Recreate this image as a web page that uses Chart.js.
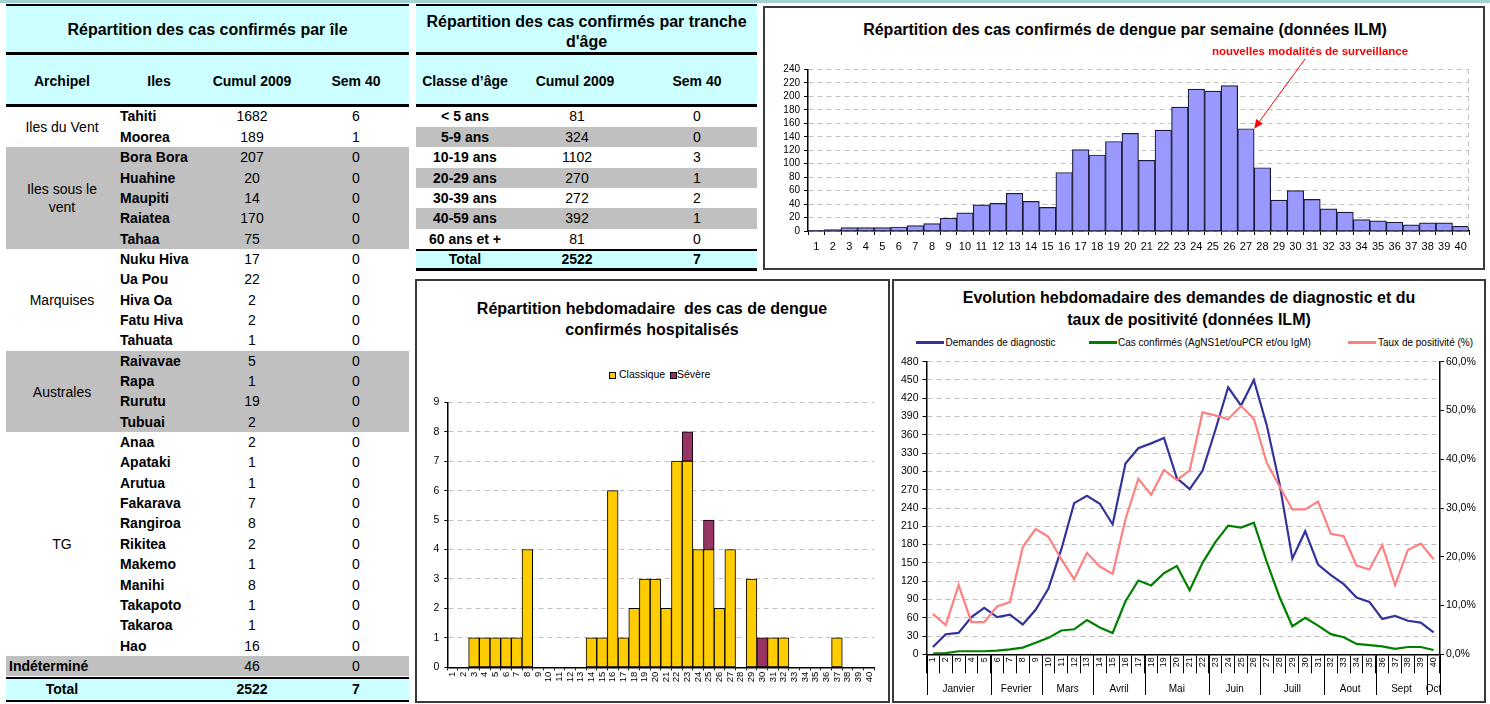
<!DOCTYPE html>
<html><head><meta charset="utf-8">
<script src="https://cdn.jsdelivr.net/npm/chart.js@4.4.0/dist/chart.umd.min.js"></script>
<style>
html,body{margin:0;padding:0;background:#fff}
body{width:1490px;height:704px;position:relative;overflow:hidden;font-family:"Liberation Sans",Arial,sans-serif;color:#000}
canvas{position:absolute}
.t{position:absolute;white-space:pre;}
</style></head><body>
<script>
// ---------------- DATA ----------------
const archipelNames = ['Iles du Vent', 'Iles sous le\nvent', 'Marquises', 'Australes', 'TG'];
const archipelSizes = [2, 5, 5, 4, 11];
const islandNames = ['Tahiti','Moorea','Bora Bora','Huahine','Maupiti','Raiatea','Tahaa','Nuku Hiva','Ua Pou','Hiva Oa','Fatu Hiva','Tahuata','Raivavae','Rapa','Rurutu','Tubuai','Anaa','Apataki','Arutua','Fakarava','Rangiroa','Rikitea','Makemo','Manihi','Takapoto','Takaroa','Hao'];
const islandCumul = [1682,189,207,20,14,170,75,17,22,2,2,1,5,1,19,2,2,1,1,7,8,2,1,8,1,1,16];
const islandSem40 = [6,1,0,0,0,0,0,0,0,0,0,0,0,0,0,0,0,0,0,0,0,0,0,0,0,0,0];
const indetCumul = 46, indetSem40 = 0;
const islandTotalCumul = 2522, islandTotalSem40 = 7;

const ageClasses = ['< 5 ans','5-9 ans','10-19 ans','20-29 ans','30-39 ans','40-59 ans','60 ans et +'];
const ageCumul = [81,324,1102,270,272,392,81];
const ageSem40 = [0,0,3,1,2,1,0];
const ageTotalCumul = 2522, ageTotalSem40 = 7;

const weekLabels = ['1','2','3','4','5','6','7','8','9','10','11','12','13','14','15','16','17','18','19','20','21','22','23','24','25','26','27','28','29','30','31','32','33','34','35','36','37','38','39','40'];
const weeklyConfirmed = [1,2,5,5,5,6,8,11,19,27,39,41,56,44,35,87,121,113,133,145,105,150,184,211,208,216,152,94,46,60,47,33,28,17,15,13,9,12,12,7];
const annotatedWeekIndex = 26;

const hospClassique = [0,0,1,1,1,1,1,4,0,0,0,0,0,1,1,6,1,2,3,3,2,7,7,4,4,2,4,0,3,0,1,1,0,0,0,0,1,0,0,0];
const hospSevere    = [0,0,0,0,0,0,0,0,0,0,0,0,0,0,0,0,0,0,0,0,0,0,1,0,1,0,0,0,0,1,0,0,0,0,0,0,0,0,0,0];

const demandesDiag = [12,33,35,61,76,61,65,49,73,108,172,248,260,247,213,313,338,346,355,289,271,301,368,438,408,450,376,280,157,202,147,130,115,93,86,58,63,55,52,36];
const casConfirmes = [1,2,5,5,5,6,8,11,19,27,39,41,56,44,35,87,121,113,133,145,105,150,184,211,208,216,152,94,46,60,47,33,28,17,15,13,9,12,12,7];
const tauxPositivite = [8.3,6.0,14.2,6.6,6.6,9.8,10.7,22.0,25.7,24.1,19.5,15.4,20.8,18.0,16.5,27.7,36.0,32.7,37.8,35.7,37.7,49.6,49.0,48.2,50.9,48.3,39.3,34.4,29.7,29.7,31.3,24.7,24.2,18.2,17.4,22.4,14.2,21.4,22.7,19.5];
const monthNames = ['Janvier','Fevrier','Mars','Avril','Mai','Juin','Juill','Aout','Sept','Oct'];
const monthWeekCounts = [5,4,4,4,5,4,5,4,4,1];

// ---------------- HELPERS ----------------
function rect(x,y,w,h,bg,extra){const d=document.createElement('div');d.style.cssText=`position:absolute;left:${x}px;top:${y}px;width:${w}px;height:${h}px;background:${bg};${extra||''}`;document.body.appendChild(d);return d;}
function text(s,x,y,o){o=o||{};const d=document.createElement('div');d.className='t';const size=o.size||14;const lh=o.lh||size*1.2;
  let css=`font-size:${size}px;line-height:${lh}px;font-weight:${o.bold?'bold':'normal'};color:${o.color||'#000'};`;
  const lines=String(s).split('\n').length;const top=y-lines*lh/2;
  if(o.align==='left'){css+=`left:${x}px;top:${top}px;`;}
  else {css+=`left:${x-300}px;width:600px;text-align:center;top:${top}px;`;}
  d.style.cssText+=css;d.textContent=s;document.body.appendChild(d);return d;}

const CYAN='#ccffff', GRAY='#c0c0c0';
rect(0,0,1490,3,'#a3d1d1');

// ---------------- LEFT TABLE ----------------
(function(){
  const X=6,W=403,R0=106.7,RH=20.35;
  rect(X,4,W,2,'#000');rect(X,6,W,46,CYAN);rect(X,52,W,3,'#000');rect(X,55,W,49,CYAN);rect(X,104,W,2.7,'#000');
  text('Répartition des cas confirmés par île',207.5,30,{bold:true,size:16});
  text('Archipel',62,81,{bold:true});text('Iles',159,81,{bold:true});text('Cumul 2009',252,81,{bold:true});text('Sem 40',356,81,{bold:true});
  let r=0;
  archipelNames.forEach((name,g)=>{const n=archipelSizes[g];
    if(g%2===1) rect(X,R0+r*RH,W,n*RH,GRAY);
    text(name,62,R0+(r+n/2)*RH,{lh:18});
    r+=n;});
  islandNames.forEach((nm,i)=>{const cy=R0+(i+0.5)*RH;
    text(nm,120,cy,{bold:true,align:'left'});
    text(String(islandCumul[i]),252,cy);
    text(String(islandSem40[i]),356,cy);});
  const ri=islandNames.length;
  rect(X,R0+ri*RH,W,RH,GRAY);
  text('Indéterminé',9,R0+(ri+0.5)*RH,{bold:true,align:'left'});
  text(String(indetCumul),252,R0+(ri+0.5)*RH);text(String(indetSem40),356,R0+(ri+0.5)*RH);
  const yb=R0+(ri+1)*RH;
  rect(X,yb,W,2.7,'#000');rect(X,yb+2.7,W,20.5,CYAN);rect(X,yb+23.2,W,2.7,'#000');
  const ty=yb+13;
  text('Total',62,ty,{bold:true});text(String(islandTotalCumul),252,ty,{bold:true});text(String(islandTotalSem40),356,ty,{bold:true});
})();

// ---------------- MIDDLE TABLE ----------------
(function(){
  const X=416,W=341,R0=106.7,RH=20.35;
  rect(X,4,W,2,'#000');rect(X,6,W,46,CYAN);rect(X,52,W,3,'#000');rect(X,55,W,49,CYAN);rect(X,104,W,2.7,'#000');
  text("Répartition des cas confirmés par tranche\nd'âge",586.5,31.5,{bold:true,size:16,lh:20});
  text('Classe d’âge',465,81,{bold:true});text('Cumul 2009',575,81,{bold:true});text('Sem 40',697,81,{bold:true});
  ageClasses.forEach((a,i)=>{const cy=R0+(i+0.5)*RH;
    if(i%2===1) rect(X,R0+i*RH,W,RH,GRAY);
    text(a,465,cy,{bold:true});text(String(ageCumul[i]),577,cy);text(String(ageSem40[i]),697,cy);});
  const yb=R0+ageClasses.length*RH;
  rect(X,yb-0.5,W,2.2,'#000');rect(X,yb+1.7,W,17.5,CYAN);rect(X,yb+19.2,W,2.3,'#000');
  const ty=yb+10.5;
  text('Total',465,ty,{bold:true});text(String(ageTotalCumul),577,ty,{bold:true});text(String(ageTotalSem40),697,ty,{bold:true});
})();

// ---------------- CHART BOXES ----------------
rect(763,6,722,264,'#fff','box-sizing:border-box;border:2px solid #3a3a3a');
rect(415,279,475,424,'#fff','box-sizing:border-box;border:2px solid #3a3a3a');
rect(892,279,594,424,'#fff','box-sizing:border-box;border:2px solid #3a3a3a');

text('Répartition des cas confirmés de dengue par semaine (données ILM)',1125,30,{bold:true,size:16});
text('Répartition hebdomadaire  des cas de dengue\nconfirmés hospitalisés',652,318.5,{bold:true,size:16,lh:21});
text('Evolution hebdomadaire des demandes de diagnostic et du\ntaux de positivité (données ILM)',1189,309,{bold:true,size:16,lh:22});

// middle legend
rect(609,371.5,5,5,'#ffcc00','border:1px solid #000');
text('Classique',619,374.3,{size:10.5,align:'left'});
rect(670,371.5,5,5,'#993366','border:1px solid #000');
text('Sévère',677,374.3,{size:10.5,align:'left'});
// right legend
rect(916,341,28,3,'#333399');text('Demandes de diagnostic',945.5,342.5,{size:10,align:'left'});
rect(1089,341,28,3,'#008000');text('Cas confirmés (AgNS1et/ouPCR et/ou IgM)',1118,342.5,{size:10,align:'left'});
rect(1348,341,28,3,'#ff8080');text('Taux de positivité (%)',1378,342.5,{size:10,align:'left'});

function mkCanvas(x,y,w,h){const c=document.createElement('canvas');c.width=w;c.height=h;c.style.left=x+'px';c.style.top=y+'px';c.style.width=w+'px';c.style.height=h+'px';document.body.appendChild(c);return c;}

Chart.defaults.font.family='"Liberation Sans", Arial, sans-serif';
Chart.defaults.color='#000';

// ---------------- TOP RIGHT CHART ----------------
const annotPlugin={id:'annot',afterDraw(chart){
  const {ctx,scales:{x,y},chartArea}=chart;
  ctx.save();
  ctx.strokeStyle='#c0c0c0';ctx.lineWidth=1;ctx.setLineDash([5,4]);
  ctx.beginPath();ctx.moveTo(chartArea.right-0.5,chartArea.top);ctx.lineTo(chartArea.right-0.5,chartArea.bottom);ctx.stroke();
  ctx.setLineDash([]);
  const half=(x.getPixelForValue(1)-x.getPixelForValue(0))/2;
  const tx=x.getPixelForValue(annotatedWeekIndex)+half, ty=y.getPixelForValue(weeklyConfirmed[annotatedWeekIndex]);
  const sx=541, sy=59;
  ctx.strokeStyle='#ff0000';ctx.fillStyle='#ff0000';ctx.lineWidth=1;
  const ang=Math.atan2(ty-sy,tx-sx), L=9, Wd=4;
  const bx=tx-L*Math.cos(ang), by=ty-L*Math.sin(ang);
  ctx.beginPath();ctx.moveTo(sx,sy);ctx.lineTo(bx,by);ctx.stroke();
  ctx.beginPath();ctx.moveTo(tx,ty);ctx.lineTo(bx+Wd*Math.sin(ang),by-Wd*Math.cos(ang));ctx.lineTo(bx-Wd*Math.sin(ang),by+Wd*Math.cos(ang));ctx.closePath();ctx.fill();
  ctx.font='bold 11.5px "Liberation Sans", Arial, sans-serif';ctx.textAlign='center';ctx.textBaseline='middle';
  ctx.fillText('nouvelles modalités de surveillance',546,52);
  ctx.restore();
}};
new Chart(mkCanvas(764,0,720,268),{
  type:'bar',
  data:{labels:weekLabels,datasets:[{data:weeklyConfirmed,backgroundColor:'#9999ff',borderColor:'#1c1c3a',borderWidth:1.2,barPercentage:1,categoryPercentage:1}]},
  options:{responsive:false,animation:false,devicePixelRatio:1,
    layout:{padding:{top:69.5,right:15,left:0,bottom:0}},
    plugins:{legend:{display:false},tooltip:{enabled:false},title:{display:false}},
    scales:{
      x:{grid:{display:true,drawOnChartArea:false,offset:true,tickLength:4,color:'#000'},border:{color:'#000',width:1.5},
         ticks:{autoSkip:false,maxRotation:0,minRotation:0,font:{size:11},padding:5},afterFit:s=>{s.height=37;}},
      y:{min:0,max:240,ticks:{stepSize:20,autoSkip:false,font:{size:10},padding:4},
         grid:{color:'#c0c0c0',tickColor:'#000',tickLength:4},border:{color:'#000',width:1.5,dash:[5,4]},afterFit:s=>{s.width=44;}}
    }},
  plugins:[annotPlugin]
});

// ---------------- MIDDLE CHART ----------------
new Chart(mkCanvas(417,281,470,419),{
  type:'bar',
  data:{labels:weekLabels,datasets:[
    {label:'Classique',data:hospClassique.map(v=>v||null),backgroundColor:'#ffcc00',borderColor:'#000',borderWidth:1,barPercentage:1,categoryPercentage:1,borderSkipped:false},
    {label:'Sévère',data:hospSevere.map(v=>v||null),backgroundColor:'#993366',borderColor:'#000',borderWidth:1,barPercentage:1,categoryPercentage:1,borderSkipped:false}]},
  options:{responsive:false,animation:false,devicePixelRatio:1,
    layout:{padding:{top:121.3,right:12.7,left:0,bottom:0}},
    plugins:{legend:{display:false},tooltip:{enabled:false}},
    scales:{
      x:{stacked:true,grid:{display:true,drawOnChartArea:false,offset:true,tickLength:3,color:'#000'},border:{color:'#000',width:1.5},
         ticks:{autoSkip:false,maxRotation:90,minRotation:90,font:{size:9.5},padding:1.5},afterFit:s=>{s.height=32.7;}},
      y:{stacked:true,min:0,max:9,ticks:{stepSize:1,autoSkip:false,font:{size:10.5},padding:5},
         grid:{color:'#c0c0c0',tickColor:'#000',tickLength:3},border:{color:'#000',width:1.5,dash:[5,4]},afterFit:s=>{s.width=30.3;}}
    }}
});

// ---------------- BOTTOM RIGHT CHART ----------------
const monthPlugin={id:'months',afterDraw(chart){
  const {ctx,scales:{x},chartArea}=chart;
  ctx.save();ctx.strokeStyle='#000';ctx.lineWidth=1;
  const yEnd=414;
  let k=0;
  const bx=i=> i===0? chartArea.left : (i>=weekLabels.length? chartArea.right : (x.getPixelForValue(i-1)+x.getPixelForValue(i))/2);
  ctx.font='10px "Liberation Sans", Arial, sans-serif';ctx.textAlign='center';ctx.textBaseline='middle';ctx.fillStyle='#000';
  const seps=[0];
  monthWeekCounts.forEach((n,m)=>{const a=k,b=k+n-1;
    const cx=(x.getPixelForValue(a)+x.getPixelForValue(b))/2;
    ctx.fillText(monthNames[m],cx,408);
    k+=n;seps.push(k);});
  seps.forEach(i=>{const px=Math.round(bx(i))+0.5;ctx.beginPath();ctx.moveTo(px,chartArea.bottom);ctx.lineTo(px,yEnd);ctx.stroke();});
  ctx.restore();
}};
new Chart(mkCanvas(895,281,588,419),{
  type:'line',
  data:{labels:weekLabels,datasets:[
    {label:'Demandes de diagnostic',data:demandesDiag,borderColor:'#333399',borderWidth:2.2,pointRadius:0,tension:0,yAxisID:'y',order:2},
    {label:'Cas confirmés (AgNS1et/ouPCR et/ou IgM)',data:casConfirmes,borderColor:'#008000',borderWidth:2.2,pointRadius:0,tension:0,yAxisID:'y',order:1},
    {label:'Taux de positivité (%)',data:tauxPositivite,borderColor:'#ff8080',borderWidth:2.2,pointRadius:0,tension:0,yAxisID:'y2',order:0}]},
  options:{responsive:false,animation:false,devicePixelRatio:1,
    layout:{padding:{top:80.7,right:0,left:0,bottom:0}},
    plugins:{legend:{display:false},tooltip:{enabled:false}},
    scales:{
      x:{offset:true,grid:{display:true,drawOnChartArea:false,offset:true,tickLength:19,color:'#000'},border:{color:'#000',width:1.5},
         ticks:{autoSkip:false,maxRotation:90,minRotation:90,font:{size:9},padding:-16},afterFit:s=>{s.height=45.7;}},
      y:{position:'left',min:0,max:480,ticks:{stepSize:30,autoSkip:false,font:{size:10.5},padding:4},
         grid:{color:'#c0c0c0',tickColor:'#000',tickLength:4},border:{color:'#000',width:1.5,dash:[5,4]},afterFit:s=>{s.width=31.5;}},
      y2:{position:'right',min:0,max:60,ticks:{stepSize:10,autoSkip:false,font:{size:10.5},padding:2,callback:v=>v.toFixed(1).replace('.',',')+'%'},
         grid:{drawOnChartArea:false,tickColor:'#000',tickLength:4},border:{color:'#000',width:1.5},afterFit:s=>{s.width=43;}}
    }},
  plugins:[monthPlugin]
});
</script>
</body></html>
